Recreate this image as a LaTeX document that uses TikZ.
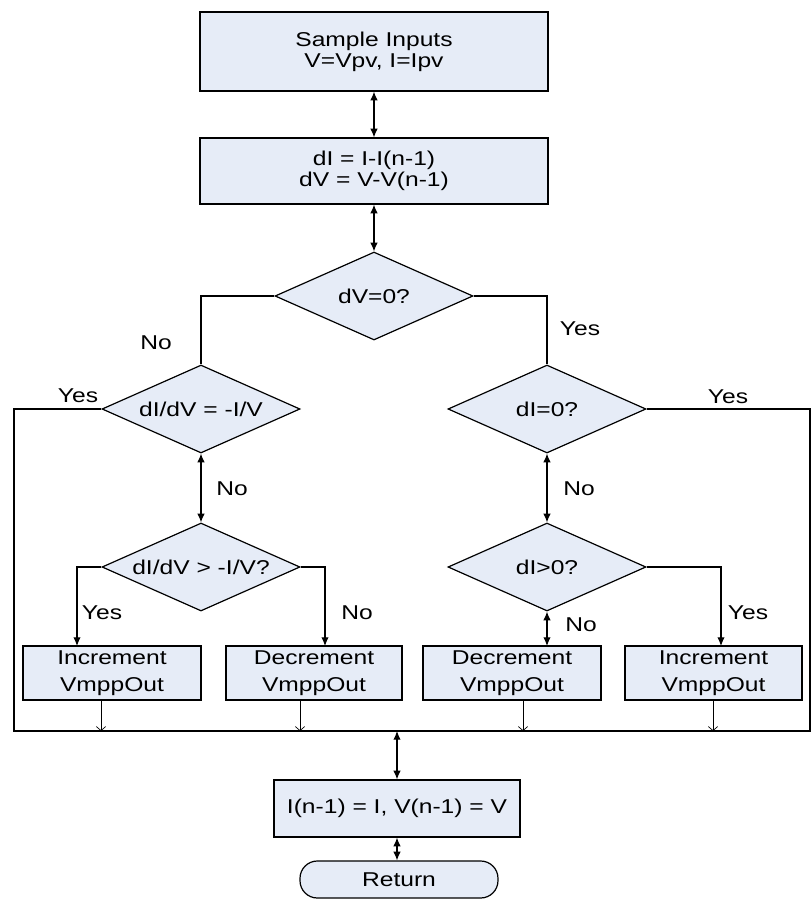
\documentclass[tikz,border=0pt]{standalone}
\usepackage{fontspec}
\setmainfont{Liberation Sans}[FakeStretch=1.23]
\usetikzlibrary{shapes.geometric,arrows.meta}
\definecolor{boxfill}{RGB}{230,236,247}
\tikzset{
  procbox/.style={draw, fill=boxfill, line width=0.9pt, inner sep=0pt, align=center},
  decision/.style={diamond, draw, fill=boxfill, line width=0.9pt, inner sep=0pt, aspect=2.25,
    minimum width=148.5pt, minimum height=66pt},
  flow/.style={line width=0.8pt},
  both/.style={flow, {Latex[length=6.5pt,width=5.5pt]}-{Latex[length=6.5pt,width=5.5pt]}},
  into/.style={flow, -{Latex[length=6.5pt,width=5.5pt]}},
  drop/.style={line width=0.5pt, -{Straight Barb[length=3pt,width=7pt]}},
  lbl/.style={inner sep=0pt}
}
\begin{document}
\begin{tikzpicture}[x=0.75pt, y=-0.75pt, font=\fontsize{15}{15.75}\selectfont]
  \useasboundingbox (0,0) rectangle (811,904);

  % Boxes at the top
  \node[procbox, minimum width=261pt, minimum height=59.25pt] (inputs) at (374,51.5) {Sample Inputs\\V=Vpv, I=Ipv};
  \node[procbox, minimum width=261pt, minimum height=49.5pt] (diff) at (374,171) {dI = I-I(n-1)\\dV = V-V(n-1)};

  % Decisions
  \node[decision] (dvzero) at (374,296) {dV=0?};
  \node[decision] (slope) at (201,409) {dI/dV = -I/V};
  \node[decision] (dizero) at (547,409) {dI=0?};
  \node[decision] (slopegt) at (201,567) {dI/dV > -I/V?};
  \node[decision] (digt) at (547,567) {dI>0?};

  % Output boxes
  \node[procbox, minimum width=133.5pt, minimum height=40.5pt, font=\fontsize{15}{20}\selectfont] (incA) at (112,673) {Increment\\VmppOut};
  \node[procbox, minimum width=132pt, minimum height=40.5pt, font=\fontsize{15}{20}\selectfont] (decA) at (314,673) {Decrement\\VmppOut};
  \node[procbox, minimum width=133.5pt, minimum height=40.5pt, font=\fontsize{15}{20}\selectfont] (decB) at (512,673) {Decrement\\VmppOut};
  \node[procbox, minimum width=132.75pt, minimum height=40.5pt, font=\fontsize{15}{20}\selectfont] (incB) at (713.5,673) {Increment\\VmppOut};

  % Bottom boxes
  \node[procbox, minimum width=184.5pt, minimum height=42.75pt] (update) at (397,808.5) {I(n-1) = I, V(n-1) = V};
  \node[procbox, rounded corners=13pt, minimum width=148.5pt, minimum height=27.75pt] (ret) at (399,879.5) {Return};

  % Points on the paths
  \coordinate (busL) at (14,731);
  \coordinate (busR) at (810,731);
  \coordinate (busM) at (397,731);
  \coordinate (incAin) at (77,646);
  \coordinate (decAin) at (325,646);
  \coordinate (decBin) at (547,646);
  \coordinate (incBin) at (721,646);

  % Top arrows
  \draw[both] (inputs.south) -- (diff.north);
  \draw[both] (diff.south) -- (dvzero.north);

  % Branches of dV=0?
  \draw[flow] (dvzero.west) -| (slope.north);
  \draw[flow] (dvzero.east) -| (dizero.north);
  \draw[both] (slope.south) -- (slopegt.north);
  \draw[both] (dizero.south) -- (digt.north);

  % Yes branches go round to the bus
  \draw[flow] (slope.west) -| (busL) -- (busR) |- (dizero.east);

  % Into the output boxes
  \draw[into] (slopegt.west) -| (incAin);
  \draw[into] (slopegt.east) -| (decAin);
  \draw[both] (digt.south) -- (decBin);
  \draw[into] (digt.east) -| (incBin);

  % Drops onto the bus
  \foreach \x/\b in {101/incA, 300/decA, 523/decB, 713/incB} {
    \draw[drop] (\b.south -| \x,0) -- (\x,731);
  }

  \draw[both] (busM) -- (update.north);
  \draw[both] (update.south |- ret.north) -- (update.south);

  % Labels
  \node[lbl] (noA) at (156,343) {No};
  \node[lbl] (yesA) at (580,329) {Yes};
  \node[lbl] (yesB) at (78,396) {Yes};
  \node[lbl] (yesC) at (728,397) {Yes};
  \node[lbl] (noB) at (232,489) {No};
  \node[lbl] (noC) at (579,489) {No};
  \node[lbl] (yesD) at (102,613) {Yes};
  \node[lbl] (noD) at (357,613) {No};
  \node[lbl] (noE) at (581,625) {No};
  \node[lbl] (yesE) at (748,613) {Yes};
\end{tikzpicture}
\end{document}
